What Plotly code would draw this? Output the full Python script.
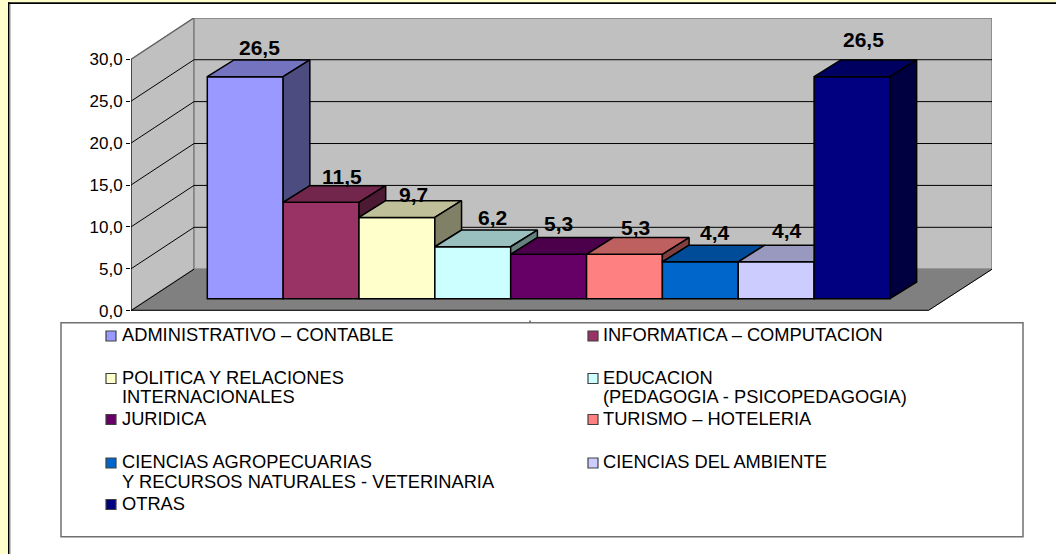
import plotly.graph_objects as go

categories = [
    "ADMINISTRATIVO – CONTABLE",
    "INFORMATICA – COMPUTACION",
    "POLITICA Y RELACIONES<br>INTERNACIONALES",
    "EDUCACION<br>(PEDAGOGIA - PSICOPEDAGOGIA)",
    "JURIDICA",
    "TURISMO – HOTELERIA",
    "CIENCIAS AGROPECUARIAS<br>Y RECURSOS NATURALES - VETERINARIA",
    "CIENCIAS DEL AMBIENTE",
    "OTRAS",
]
values = [26.5, 11.5, 9.7, 6.2, 5.3, 5.3, 4.4, 4.4, 26.5]
value_labels = ["26,5", "11,5", "9,7", "6,2", "5,3", "5,3", "4,4", "4,4", "26,5"]
colors = ["#9999FF", "#993366", "#FFFFCC", "#CCFFFF", "#660066", "#FF8080", "#0066CC", "#CCCCFF", "#000080"]
tick_values = [0, 5, 10, 15, 20, 25, 30]
tick_labels = ["0,0", "5,0", "10,0", "15,0", "20,0", "25,0", "30,0"]

# label nudges (pixels) relative to the back top edge centre of each bar
label_dx = [14.3, 20.9, 16.5, 19.9, 10.3, 11.5, 14.6, 10.8, 11.9]
label_dy = [12.0, 9.6, 6.7, 13.0, 14.0, 9.6, 12.4, 15.0, 20.0]

# legend layout, page pixels: (swatch x, text x), first-line centre y, line step
legend_cols = [(106, 120), (588, 601)]
legend_rows = [334.5, 377, 418, 461.5, 503]
LINE_STEP = 19.8

W, H = 1056, 554
LAYOUT_H = 564
PX_L, PX_R, PX_T, PX_B = 131.0, 992.0, 18.0, 310.7
PER_UNIT = 8.38
BAR_PX = 75.85
BAR0 = 207.3

y_top = (PX_B - PX_T) / PER_UNIT
x_lo = -0.5 + (PX_L - BAR0) / BAR_PX
x_hi = -0.5 + (PX_R - BAR0) / BAR_PX

WALL_DX = 63.0 / BAR_PX
WALL_DY = 4.95
FLOOR_RIGHT = -0.5 + (928.0 - BAR0) / BAR_PX
BASE = 12.0 / PER_UNIT
DX = 26.7 / BAR_PX
DY = 16.7 / PER_UNIT


def shade(hex_color, k):
    r, g, b = (int(hex_color[i:i + 2], 16) for i in (1, 3, 5))
    return f"rgb({r * k:.0f},{g * k:.0f},{b * k:.0f})"


def fx(px):
    return px / W


def fy(py):
    return 1 - py / H


shapes = []


def poly(pts, fill, line=None, width=1):
    path = "M " + " L ".join(f"{x},{y}" for x, y in pts) + " Z"
    shapes.append(dict(type="path", path=path, xref="x", yref="y", fillcolor=fill,
                       line=dict(color=line or fill, width=width), layer="below"))


def seg(x0, y0, x1, y1, color, width=1):
    shapes.append(dict(type="line", x0=x0, y0=y0, x1=x1, y1=y1, xref="x", yref="y",
                       line=dict(color=color, width=width), layer="below"))


def page_rect(x0, y0, x1, y1, fill, line=None, width=0):
    shapes.append(dict(type="rect", xref="paper", yref="paper", x0=fx(x0), x1=fx(x1),
                       y0=fy(y1), y1=fy(y0), fillcolor=fill,
                       line=dict(color=line or fill, width=width), layer="below"))


# page frame
page_rect(0, 0, 8, H, "#FFFFCC")
page_rect(0, 0, W, 2.2, "#FFFFCC")
page_rect(8, 2.2, 9.6, H, "#000000")
page_rect(9.6, 4, 10.6, H, "#A0A0A0")
page_rect(8, 2.2, W, 4, "#000000")

# walls and floor
top = tick_values[-1]
poly([(x_lo, 0), (x_lo, top), (x_lo + WALL_DX, top + WALL_DY), (x_lo + WALL_DX, WALL_DY)], "#C0C0C0", "#808080", 1.5)
poly([(x_lo + WALL_DX, WALL_DY), (x_lo + WALL_DX, top + WALL_DY), (x_hi, top + WALL_DY), (x_hi, WALL_DY)], "#C0C0C0", "#808080", 1.5)
poly([(x_lo, 0), (FLOOR_RIGHT, 0), (x_hi, WALL_DY), (x_lo + WALL_DX, WALL_DY)], "#808080", "#808080", 1)

# gridlines
for v in tick_values[1:]:
    col = "#606060" if v == top else "#000000"
    seg(x_lo, v, x_lo + WALL_DX, v + WALL_DY, col, 1)
    seg(x_lo + WALL_DX, v + WALL_DY, x_hi, v + WALL_DY, col, 1)
seg(FLOOR_RIGHT, 0, x_hi, WALL_DY, "#000000", 1)
seg(x_lo, 0, x_lo + WALL_DX, WALL_DY, "#000000", 1)
seg(x_lo, 0, FLOOR_RIGHT, 0, "#000000", 2)
seg(x_lo, 0, x_lo, top, "#000000", 1)
seg(FLOOR_RIGHT, 0, FLOOR_RIGHT, -4 / PER_UNIT, "#000000", 1)

fig = go.Figure()

# front faces
fig.add_trace(go.Bar(
    x=list(range(len(values))), y=values, base=BASE, width=1,
    marker=dict(color=colors, line=dict(color="#000000", width=1.5)),
    hoverinfo="skip", showlegend=False,
))

# top and side faces
for i, v in enumerate(values):
    xl, xr = i - 0.5, i + 0.5
    yt = v + BASE
    nxt = values[i + 1] if i + 1 < len(values) else None
    clip_top = nxt is not None and nxt > v
    if clip_top:
        tx = [xl, xr, xr, xl + DX, xl]
        ty = [yt, yt, yt + DY, yt + DY, yt]
    else:
        tx = [xl, xr, xr + DX, xl + DX, xl]
        ty = [yt, yt, yt + DY, yt + DY, yt]
    fig.add_trace(go.Scatter(x=tx, y=ty, mode="lines", fill="toself",
                             fillcolor=shade(colors[i], 0.75),
                             line=dict(color="#000000", width=1.5),
                             hoverinfo="skip", showlegend=False))
    low = BASE if nxt is None else nxt + BASE
    if low < yt:
        fig.add_trace(go.Scatter(x=[xr, xr + DX, xr + DX, xr, xr],
                                 y=[yt, yt + DY, low + DY, low, yt],
                                 mode="lines", fill="toself",
                                 fillcolor=shade(colors[i], 0.5),
                                 line=dict(color="#000000", width=1.5),
                                 hoverinfo="skip", showlegend=False))

annotations = []
for i, (v, lab) in enumerate(zip(values, value_labels)):
    annotations.append(dict(x=i, y=v + BASE + DY, xref="x", yref="y", text=f"<b>{lab}</b>",
                            showarrow=False, xanchor="center", yanchor="middle",
                            xshift=label_dx[i], yshift=label_dy[i],
                            font=dict(family="Liberation Sans", size=21, color="#000000")))

# legend
for i, name in enumerate(categories):
    sx, tx = legend_cols[i % 2]
    cy = legend_rows[i // 2]
    page_rect(sx, cy - 3.5, sx + 10, cy + 6.5, colors[i], "#404040", 1.2)
    for k, line in enumerate(name.split("<br>")):
        annotations.append(dict(x=fx(tx), y=fy(cy + k * LINE_STEP), xref="paper", yref="paper", text=line,
                                showarrow=False, xanchor="left", yanchor="middle", align="left",
                                font=dict(family="Liberation Sans", size=18.3, color="#000000")))
shapes.insert(5, dict(type="rect", xref="paper", yref="paper", x0=fx(61), x1=fx(1023),
                      y0=fy(536.7), y1=fy(322.7), fillcolor="#FFFFFF",
                      line=dict(color="#707070", width=1.5), layer="below"))
# small stray axis tick just above the legend box
shapes.append(dict(type="line", xref="paper", yref="paper", x0=fx(530), x1=fx(530),
                   y0=fy(322), y1=fy(320.5), line=dict(color="#000000", width=1), layer="below"))

fig.update_layout(
    width=W, height=LAYOUT_H, margin=dict(l=0, r=0, t=0, b=0),
    paper_bgcolor="#FFFFFF", plot_bgcolor="rgba(0,0,0,0)",
    showlegend=False, barmode="overlay", shapes=shapes, annotations=annotations,
    xaxis=dict(domain=[PX_L / W, PX_R / W], range=[x_lo, x_hi], visible=False),
    yaxis=dict(domain=[1 - PX_B / H, 1 - PX_T / H], range=[0, y_top], showgrid=False, zeroline=False,
               tickmode="array", tickvals=tick_values, ticktext=tick_labels,
               ticks="outside", ticklen=4, tickcolor="#000000", tickwidth=1,
               showline=False,
               tickfont=dict(family="Liberation Sans", size=17, color="#000000")),
)

fig.write_html("out.html", config={"displayModeBar": False, "responsive": False},
               post_script="document.body.style.margin='0';document.body.style.overflow='hidden';")
